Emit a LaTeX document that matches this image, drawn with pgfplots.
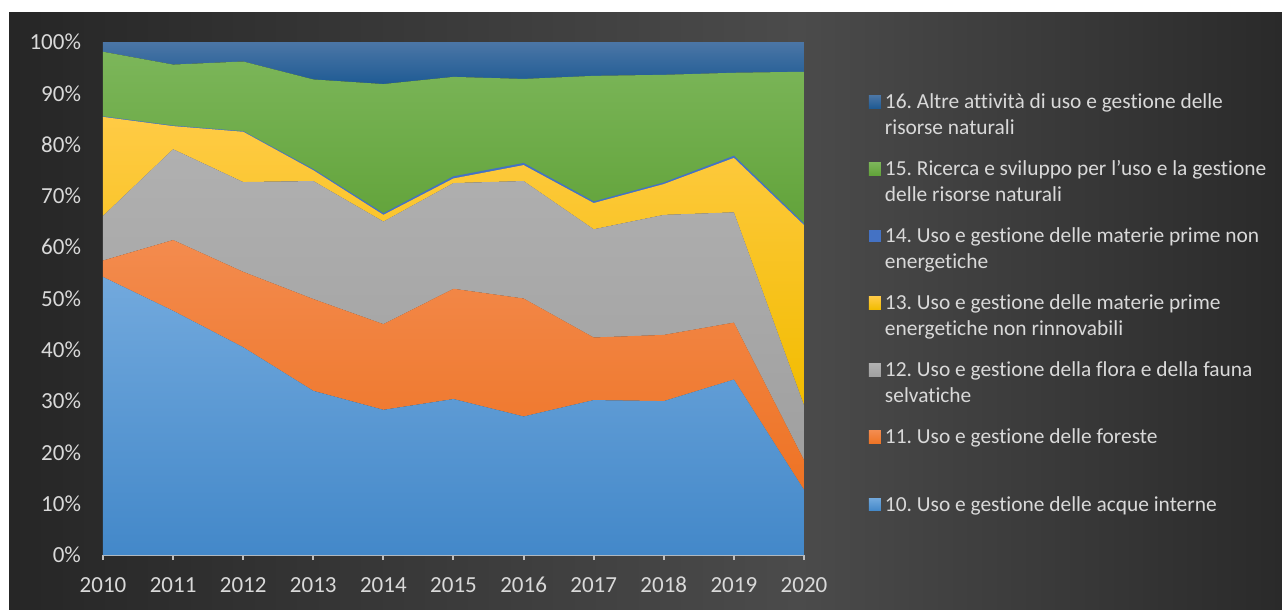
\documentclass[border=0pt]{standalone}
\usepackage{fontspec}
\setmainfont{Carlito}[Ligatures=NoCommon]
\usepackage{pgfplots}
\pgfplotsset{compat=1.18}
\frenchspacing
\definecolor{bgA}{HTML}{262626}
\definecolor{bgB}{HTML}{4B4B4B}
\definecolor{bgC}{HTML}{2A2A2A}
\definecolor{labelgray}{HTML}{D9D9D9}
\definecolor{axisgray}{HTML}{BFBFBF}
\definecolor{cAt}{HTML}{72A9DD}\definecolor{cAb}{HTML}{4388C9}
\definecolor{cBt}{HTML}{F38B4E}\definecolor{cBb}{HTML}{EE7324}
\definecolor{cCt}{HTML}{B0B0B0}\definecolor{cCb}{HTML}{A0A0A0}
\definecolor{cDt}{HTML}{FFCB45}\definecolor{cDb}{HTML}{F2BC00}
\definecolor{cE}{HTML}{4472C4}
\definecolor{cFt}{HTML}{7CB65A}\definecolor{cFb}{HTML}{62A33A}
\definecolor{cGt}{HTML}{4B76A6}\definecolor{cGb}{HTML}{1F5B94}
\pgfdeclarehorizontalshading{bgshade}{100bp}{color(0bp)=(bgA); color(25bp)=(bgA); color(56bp)=(bgB); color(75bp)=(bgC); color(100bp)=(bgC)}
\newcommand{\lentry}[1]{\begin{tabular}[t]{@{}l@{}}#1\end{tabular}}
\begin{document}
\begin{tikzpicture}
\useasboundingbox (0pt,0pt) rectangle (641pt,-305pt);
\fill[white] (0pt,0pt) rectangle (641pt,-305pt);
\shade[shading=bgshade] (4.5pt,-6.5pt) rectangle (641pt,-305pt);
\begin{axis}[
  scale only axis, width=350.5pt, height=256.5pt,
  at={(51.5pt,-277.5pt)}, anchor=south west,
  xmin=2010, xmax=2020, ymin=0, ymax=100,
  stack plots=y,
  xtick={2010,2011,...,2020}, ytick={0,10,...,100},
  axis x line*=bottom, axis y line*=left,
  x axis line style={-, draw=axisgray, line width=1pt},
  y axis line style={draw=none},
  tick align=outside, major tick length=2.5pt,
  xtick style={draw=axisgray, line width=1pt},
  ytick style={draw=none},
  /pgf/number format/assume math mode=true,
  /pgf/number format/1000 sep={},
  tick label style={font=\fontsize{11.5}{13}\selectfont, text=labelgray},
  yticklabel={\pgfmathprintnumber{\tick}\%},
  yticklabel style={xshift=-5pt},
  xticklabel style={anchor=base, yshift=-16pt},
  reverse legend,
  legend image code/.code={\path[#1,draw=none] (0pt,0.2pt) rectangle (6pt,6.5pt);},
  legend style={draw=none, fill=none, at={(1.0927,0.9138)}, anchor=north west,
    inner sep=0pt, outer sep=0pt, row sep=18.95pt,
    cells={anchor=base west, inner xsep=2.5pt, inner ysep=0pt},
    font=\fontsize{10.7}{13}\selectfont, text=labelgray},
]
\addplot[draw=none, top color=cAt, bottom color=cAb] coordinates {
 (2010,54.2) (2011,47.6) (2012,40.5) (2013,32.0) (2014,28.3) (2015,30.4)
 (2016,27.0) (2017,30.2) (2018,30.0) (2019,34.2) (2020,12.7)} \closedcycle;
\addlegendentry{\lentry{10. Uso e gestione delle acque interne}}
\addplot[draw=none, top color=cBt, bottom color=cBb] coordinates {
 (2010,3.2) (2011,13.8) (2012,14.7) (2013,17.9) (2014,16.7) (2015,21.5)
 (2016,23.0) (2017,12.2) (2018,12.9) (2019,11.1) (2020,5.8)} \closedcycle;
\addlegendentry{\lentry{11. Uso e gestione delle foreste}}
\addplot[draw=none, top color=cCt, bottom color=cCb] coordinates {
 (2010,8.7) (2011,17.7) (2012,17.5) (2013,23.0) (2014,20.0) (2015,20.6)
 (2016,22.9) (2017,21.1) (2018,23.4) (2019,21.5) (2020,10.7)} \closedcycle;
\addlegendentry{\lentry{12. Uso e gestione della flora e della fauna\\selvatiche}}
\addplot[draw=none, top color=cDt, bottom color=cDb] coordinates {
 (2010,19.3) (2011,4.5) (2012,9.8) (2013,2.1) (2014,1.3) (2015,0.9)
 (2016,3.1) (2017,5.1) (2018,6.0) (2019,10.6) (2020,35.1)} \closedcycle;
\addlegendentry{\lentry{13. Uso e gestione delle materie prime\\energetiche non rinnovabili}}
\addplot[fill=cE, draw=cE, line width=0.6pt] coordinates {
 (2010,0) (2011,0) (2012,0) (2013,0.1) (2014,0.2) (2015,0.3)
 (2016,0.3) (2017,0.2) (2018,0.2) (2019,0.3) (2020,0.2)} \closedcycle;
\addlegendentry{\lentry{14. Uso e gestione delle materie prime non\\energetiche}}
\addplot[draw=none, top color=cFt, bottom color=cFb] coordinates {
 (2010,12.7) (2011,12.0) (2012,13.7) (2013,17.6) (2014,25.3) (2015,19.5)
 (2016,16.5) (2017,24.6) (2018,21.1) (2019,16.3) (2020,29.7)} \closedcycle;
\addlegendentry{\lentry{15. Ricerca e sviluppo per l’uso e la gestione\\delle risorse naturali}}
\addplot[draw=none, top color=cGt, bottom color=cGb] coordinates {
 (2010,1.9) (2011,4.4) (2012,3.8) (2013,7.3) (2014,8.2) (2015,6.8)
 (2016,7.2) (2017,6.6) (2018,6.4) (2019,6.0) (2020,5.8)} \closedcycle;
\addlegendentry{\lentry{16. Altre attività di uso e gestione delle\\risorse naturali}}
\end{axis}
\end{tikzpicture}
\end{document}
